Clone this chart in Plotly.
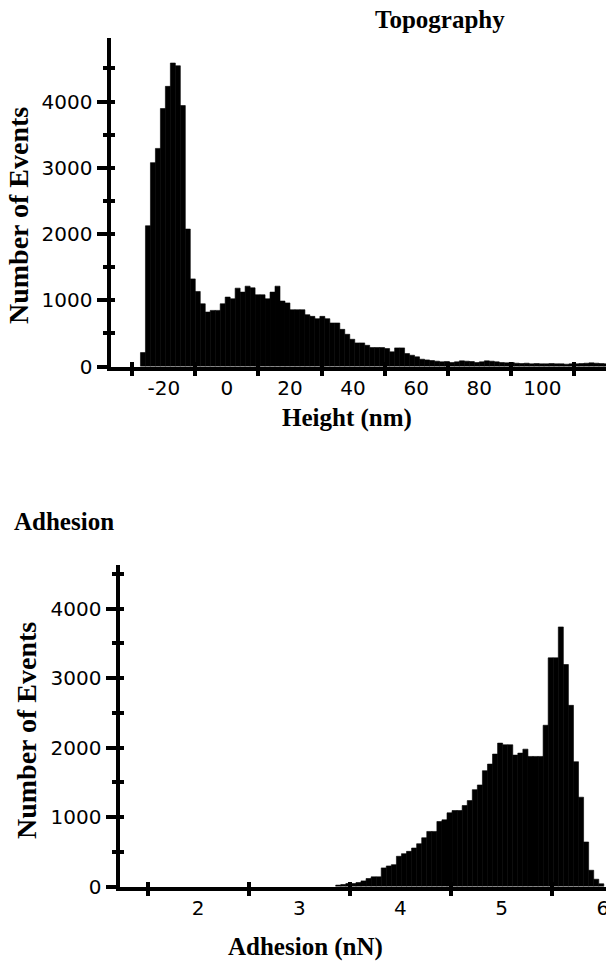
import plotly.graph_objects as go

# ---------------- data ----------------
# Topography histogram (Height, nm)
top_bin_start = -27.4
top_bin_width = 1.58
top_counts = [
    210, 2125, 3078, 3293, 3895, 4230, 4582, 4541, 3940, 2075,
    1323, 1133, 947, 822, 847, 847, 947, 1048, 1022, 1183,
    1123, 1213, 1188, 1083, 1083, 1022, 1123, 1213, 988, 960,
    857, 857, 857, 782, 757, 722, 757, 722, 657, 657,
    561, 486, 411, 356, 356, 320, 286, 286, 286, 271,
    221, 281, 281, 195, 170, 146, 110, 100, 90, 80,
    70, 75, 60, 70, 85, 80, 75, 60, 70, 85,
    80, 70, 60, 55, 60, 50, 45, 50, 40, 45,
    40, 40, 45, 40, 40, 35, 40, 40, 45, 50,
    55, 50, 45, 40,
]
top_tick_marks = [-30, -10, 10, 30, 50, 70, 90, 110]
top_tick_labels = [-20, 0, 20, 40, 60, 80, 100]

# Adhesion histogram (nN)
bot_bin_start = 3.36
bot_bin_width = 0.05
bot_counts = [
    20, 29, 43, 43, 57, 81, 115, 139, 139, 268,
    296, 315, 435, 473, 506, 554, 616, 702, 793, 793,
    936, 960, 1061, 1094, 1094, 1166, 1237, 1395, 1462, 1668,
    1763, 1907, 2065, 2041, 2041, 1892, 1921, 1978, 1873, 1873,
    1873, 2322, 3293, 3293, 3738, 3197, 2609, 1797, 1286, 641,
    234, 105, 39,
]
bot_tick_marks = [1.5, 2.5, 3.5, 4.5, 5.5]
bot_tick_labels = [2, 3, 4, 5, 6]

y_major = [0, 1000, 2000, 3000, 4000]
y_all = [0, 500, 1000, 1500, 2000, 2500, 3000, 3500, 4000, 4500]

top_centers = [top_bin_start + top_bin_width * (i + 0.5) for i in range(len(top_counts))]
bot_centers = [bot_bin_start + bot_bin_width * (i + 0.5) for i in range(len(bot_counts))]

# ---------------- figure ----------------
W, H = 606, 965
fig = go.Figure()

bar_style = dict(marker=dict(color="black", line=dict(color="black", width=0.6)), showlegend=False, hoverinfo="skip")
fig.add_trace(go.Bar(x=top_centers, y=top_counts, width=top_bin_width, xaxis="x", yaxis="y", **bar_style))
fig.add_trace(go.Bar(x=bot_centers, y=bot_counts, width=bot_bin_width, xaxis="x2", yaxis="y2", **bar_style))
# empty traces for overlay (inside tick) axes
fig.add_trace(go.Scatter(x=[], y=[], xaxis="x3", yaxis="y3", showlegend=False))
fig.add_trace(go.Scatter(x=[], y=[], xaxis="x4", yaxis="y4", showlegend=False))

tickfont = dict(family="DejaVu Sans, Arial, sans-serif", size=20, color="black")
titlefont_h = dict(family="Liberation Serif, Times New Roman, serif", size=25, color="black")
titlefont_v = dict(family="Liberation Serif, Times New Roman, serif", size=28, color="black")

LW = 4
# pixel geometry
top_left_px, top_bottom_px, top_top_px = 110.5, 366.5, 38
bot_left_px, bot_bottom_px, bot_top_px = 119.5, 886.5, 565

def xd(px):
    return px / W

def yd(px):
    return (H - px) / H

top_xrange = [-36.9, 120.2]
top_yrange = [0, 4960]
bot_xrange = [1.223, 6.0315]
bot_yrange = [0, 4630]

common_line = dict(showline=True, linecolor="black", linewidth=LW, showgrid=False, zeroline=False,
                   tickcolor="black", tickwidth=LW, tickfont=tickfont, automargin=False)
overlay_common = dict(tickwidth=LW, tickcolor="black", showticklabels=False, showline=False,
                      showgrid=False, zeroline=False, automargin=False)

fig.update_layout(
    template="none",
    width=W, height=H, autosize=False,
    margin=dict(l=0, r=0, t=0, b=0, pad=0),
    paper_bgcolor="white", plot_bgcolor="white",
    bargap=0,
    xaxis=dict(domain=[xd(top_left_px), 1], range=top_xrange, anchor="y",
               tickmode="array", tickvals=top_tick_labels, ticktext=[str(v) for v in top_tick_labels],
               ticks="", ticklabelstandoff=0, ticklabeloverflow="allow",
               minor=dict(tickmode="array", tickvals=top_tick_marks, ticks="outside", ticklen=5,
                          tickwidth=LW, tickcolor="black"),
               **common_line),
    yaxis=dict(domain=[yd(top_bottom_px), yd(top_top_px)], range=top_yrange, anchor="x",
               tickmode="array", tickvals=y_major, ticktext=[str(v) for v in y_major],
               ticks="outside", ticklen=10,
               minor=dict(tickmode="array", tickvals=y_all, ticks="outside", ticklen=4,
                          tickwidth=LW, tickcolor="black"),
               **common_line),
    xaxis3=dict(overlaying="x", anchor="y", range=top_xrange, side="bottom",
                tickmode="array", tickvals=top_tick_marks, ticks="inside", ticklen=5, **overlay_common),
    yaxis3=dict(overlaying="y", anchor="x", range=top_yrange, side="left",
                tickmode="array", tickvals=y_all, ticks="inside", ticklen=4, **overlay_common),
    xaxis2=dict(domain=[xd(bot_left_px), 1], range=bot_xrange, anchor="y2",
                tickmode="array", tickvals=bot_tick_labels, ticktext=[str(v) for v in bot_tick_labels],
                ticks="", ticklabelstandoff=0, ticklabeloverflow="allow",
                minor=dict(tickmode="array", tickvals=bot_tick_marks, ticks="outside", ticklen=5,
                           tickwidth=LW, tickcolor="black"),
                **common_line),
    yaxis2=dict(domain=[yd(bot_bottom_px), yd(bot_top_px)], range=bot_yrange, anchor="x2",
                tickmode="array", tickvals=y_major, ticktext=[str(v) for v in y_major],
                ticks="outside", ticklen=10,
                minor=dict(tickmode="array", tickvals=y_all, ticks="outside", ticklen=4,
                           tickwidth=LW, tickcolor="black"),
                **common_line),
    xaxis4=dict(overlaying="x2", anchor="y2", range=bot_xrange, side="bottom",
                tickmode="array", tickvals=bot_tick_marks, ticks="inside", ticklen=5, **overlay_common),
    yaxis4=dict(overlaying="y2", anchor="x2", range=bot_yrange, side="left",
                tickmode="array", tickvals=y_all, ticks="inside", ticklen=4, **overlay_common),
)

def ann(text, x, y, angle=0, xanchor="center", font=titlefont_h):
    fig.add_annotation(text=f"<b>{text}</b>", x=xd(x), y=yd(y), xref="paper", yref="paper",
                       showarrow=False, font=font, textangle=angle,
                       xanchor=xanchor, yanchor="middle")

ann("Topography", 440, 20)
ann("Height (nm)", 347, 418)
ann("Number of Events", 19, 216, angle=-90, font=titlefont_v)
ann("Adhesion", 12, 521, xanchor="left")
ann("Number of Events", 26, 731, angle=-90, font=titlefont_v)
ann("Adhesion (nN)", 305, 947)

fig.write_html("out.html", config={"displayModeBar": False, "staticPlot": True},
               post_script="document.body.style.margin='0';document.body.style.overflow='hidden';")
